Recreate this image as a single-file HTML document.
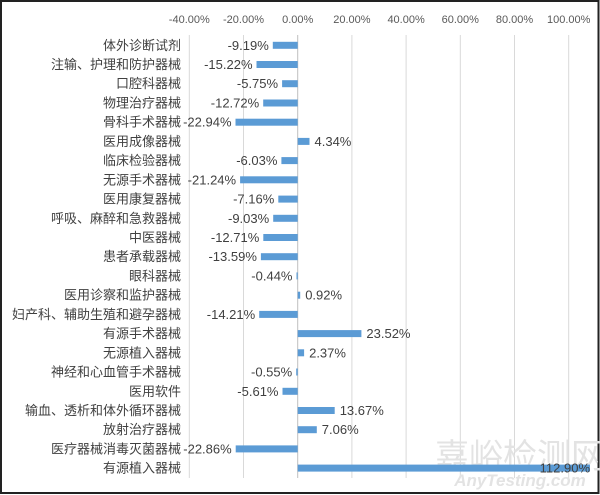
<!DOCTYPE html>
<html><head><meta charset="utf-8"><style>
body{margin:0;background:#fff}
svg{display:block}
.c{font-family:"Liberation Sans","Noto Sans CJK SC",sans-serif;font-size:13px;fill:#404040}
.v{font-family:"Liberation Sans","Noto Sans CJK SC",sans-serif;font-size:13px;fill:#404040}
.t{font-family:"Liberation Sans",sans-serif;font-size:11px;fill:#595959}
</style></head><body>
<svg width="600" height="495" viewBox="0 0 600 495" xmlns="http://www.w3.org/2000/svg">
<rect x="0" y="0" width="600" height="495" fill="#fff"/>
<rect x="1" y="1" width="597.5" height="492" fill="none" stroke="#222" stroke-width="2"/>
<g stroke="#d9d9d9" stroke-width="1">
<line x1="189.3" y1="35" x2="189.3" y2="478"/>
<line x1="243.5" y1="35" x2="243.5" y2="478"/>
<line x1="351.9" y1="35" x2="351.9" y2="478"/>
<line x1="406.1" y1="35" x2="406.1" y2="478"/>
<line x1="460.3" y1="35" x2="460.3" y2="478"/>
<line x1="514.5" y1="35" x2="514.5" y2="478"/>
<line x1="568.7" y1="35" x2="568.7" y2="478"/>
</g>
<line x1="297.7" y1="35" x2="297.7" y2="478" stroke="#bfbfbf"/>
<g class="t" text-anchor="middle">
<text x="189.3" y="23">-40.00%</text><text x="243.5" y="23">-20.00%</text><text x="297.7" y="23">0.00%</text><text x="351.9" y="23">20.00%</text><text x="406.1" y="23">40.00%</text><text x="460.3" y="23">60.00%</text><text x="514.5" y="23">80.00%</text><text x="568.7" y="23">100.00%</text>
</g>
<g font-family="Liberation Sans,Noto Sans CJK SC,sans-serif" fill="#e3e3e3">
<text x="520" y="468" font-size="34" text-anchor="middle" font-family="Noto Sans CJK SC,sans-serif">嘉峪检测网</text>
<text x="520" y="486" font-size="17" font-style="italic" font-weight="bold" text-anchor="middle">AnyTesting.com</text>
</g>
<g fill="#5b9bd5">
<rect x="272.8" y="41.8" width="24.9" height="7"/>
<rect x="256.5" y="61" width="41.2" height="7"/>
<rect x="282.1" y="80.2" width="15.6" height="7"/>
<rect x="263.2" y="99.5" width="34.5" height="7"/>
<rect x="235.5" y="118.7" width="62.2" height="7"/>
<rect x="297.7" y="137.9" width="11.8" height="7"/>
<rect x="281.4" y="157.1" width="16.3" height="7"/>
<rect x="240.1" y="176.3" width="57.6" height="7"/>
<rect x="278.3" y="195.6" width="19.4" height="7"/>
<rect x="273.2" y="214.8" width="24.5" height="7"/>
<rect x="263.3" y="234" width="34.4" height="7"/>
<rect x="260.9" y="253.2" width="36.8" height="7"/>
<rect x="296.5" y="272.4" width="1.2" height="7"/>
<rect x="297.7" y="291.7" width="2.5" height="7"/>
<rect x="259.2" y="310.9" width="38.5" height="7"/>
<rect x="297.7" y="330.1" width="63.7" height="7"/>
<rect x="297.7" y="349.3" width="6.4" height="7"/>
<rect x="296.2" y="368.5" width="1.5" height="7"/>
<rect x="282.5" y="387.8" width="15.2" height="7"/>
<rect x="297.7" y="407" width="37" height="7"/>
<rect x="297.7" y="426.2" width="19.1" height="7"/>
<rect x="235.7" y="445.4" width="62" height="7"/>
<rect x="297.7" y="464.6" width="292.3" height="7"/>
</g>
<g class="c" text-anchor="end" dominant-baseline="central">
<text x="181" y="45.3">体外诊断试剂</text>
<text x="181" y="64.5">注输、护理和防护器械</text>
<text x="181" y="83.7">口腔科器械</text>
<text x="181" y="103">物理治疗器械</text>
<text x="181" y="122.2">骨科手术器械</text>
<text x="181" y="141.4">医用成像器械</text>
<text x="181" y="160.6">临床检验器械</text>
<text x="181" y="179.8">无源手术器械</text>
<text x="181" y="199.1">医用康复器械</text>
<text x="181" y="218.3">呼吸、麻醉和急救器械</text>
<text x="181" y="237.5">中医器械</text>
<text x="181" y="256.7">患者承载器械</text>
<text x="181" y="275.9">眼科器械</text>
<text x="181" y="295.2">医用诊察和监护器械</text>
<text x="181" y="314.4">妇产科、辅助生殖和避孕器械</text>
<text x="181" y="333.6">有源手术器械</text>
<text x="181" y="352.8">无源植入器械</text>
<text x="181" y="372">神经和心血管手术器械</text>
<text x="181" y="391.3">医用软件</text>
<text x="181" y="410.5">输血、透析和体外循环器械</text>
<text x="181" y="429.7">放射治疗器械</text>
<text x="181" y="448.9">医疗器械消毒灭菌器械</text>
<text x="181" y="468.1">有源植入器械</text>
</g>
<g class="v" dominant-baseline="central" text-anchor="end">
<text x="268.8" y="45.3">-9.19%</text>
<text x="252.5" y="64.5">-15.22%</text>
<text x="278.1" y="83.7">-5.75%</text>
<text x="259.2" y="103">-12.72%</text>
<text x="231.5" y="122.2">-22.94%</text>
<text x="277.4" y="160.6">-6.03%</text>
<text x="236.1" y="179.8">-21.24%</text>
<text x="274.3" y="199.1">-7.16%</text>
<text x="269.2" y="218.3">-9.03%</text>
<text x="259.3" y="237.5">-12.71%</text>
<text x="256.9" y="256.7">-13.59%</text>
<text x="292.5" y="275.9">-0.44%</text>
<text x="255.2" y="314.4">-14.21%</text>
<text x="292.2" y="372">-0.55%</text>
<text x="278.5" y="391.3">-5.61%</text>
<text x="231.7" y="448.9">-22.86%</text>
<text x="590" y="468.1">112.90%</text>
</g>
<g class="v" dominant-baseline="central">
<text x="314.5" y="141.4">4.34%</text>
<text x="305.2" y="295.2">0.92%</text>
<text x="366.4" y="333.6">23.52%</text>
<text x="309.1" y="352.8">2.37%</text>
<text x="339.7" y="410.5">13.67%</text>
<text x="321.8" y="429.7">7.06%</text>
</g>
</svg>
</body></html>
